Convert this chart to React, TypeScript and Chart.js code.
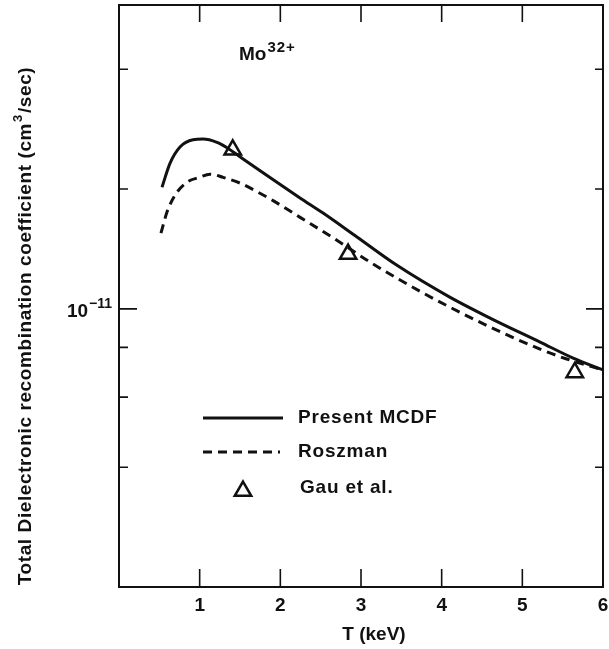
import React, { useEffect, useRef } from "react";
import { Chart, registerables } from "chart.js";

Chart.register(...registerables);

// Present MCDF (solid)
const mcdfT = [0.533, 0.632, 0.756, 0.917, 1.041, 1.215, 1.339, 1.525, 2.244, 2.53, 2.95, 3.446, 4.1, 4.6, 5.22, 5.63, 6.0];
const mcdfRate = [2.02e-11, 2.32e-11, 2.55e-11, 2.66e-11, 2.67e-11, 2.62e-11, 2.54e-11, 2.39e-11, 1.9e-11, 1.74e-11, 1.515e-11, 1.286e-11, 1.07e-11, 9.48e-12, 8.25e-12, 7.52e-12, 7.02e-12];

// Roszman (dashed)
const roszT = [0.52, 0.595, 0.694, 0.843, 1.0, 1.128, 1.29, 1.5, 1.71, 1.91, 2.24, 2.65, 3.15, 3.77, 4.1, 4.6, 5.22, 5.55, 6.0];
const roszRate = [1.55e-11, 1.75e-11, 1.93e-11, 2.08e-11, 2.14e-11, 2.18e-11, 2.14e-11, 2.07e-11, 1.97e-11, 1.87e-11, 1.7e-11, 1.51e-11, 1.296e-11, 1.096e-11, 1.01e-11, 9.0e-12, 7.92e-12, 7.48e-12, 7.02e-12];

// Gau et al. (triangles)
const gauT = [1.41, 2.84, 5.65];
const gauRate = [2.51e-11, 1.373e-11, 6.92e-12];

// Axis ticks
const xTickValues = [1, 2, 3, 4, 5, 6];
const xTickLabels = ["1", "2", "3", "4", "5", "6"];
const yMajorTicks = [1e-11];
const yMinorTicks = [4e-12, 6e-12, 8e-12, 2e-11, 4e-11];

const seriesNames = ["Present MCDF", "Roszman", "Gau et al."];
const yTitleMain = "Total Dielectronic recombination coefficient (cm";
const yTitleSup = "3";
const yTitleEnd = "/sec)";
const xTitle = "T (keV)";
const ionBase = "Mo";
const ionSup = "32+";

const FONT = '"Liberation Sans", Arial, Helvetica, sans-serif';
const INK = "#111";

const decorPlugin = {
  id: "decor",
  afterDraw(chart: any) {
    const ctx = chart.ctx as CanvasRenderingContext2D;
    const xs = chart.scales.x;
    const ys = chart.scales.y;
    const { left, right, top, bottom } = chart.chartArea;
    ctx.save();
    ctx.strokeStyle = INK;
    ctx.fillStyle = INK;
    ctx.lineWidth = 2;
    ctx.strokeRect(left, top, right - left, bottom - top);

    // x ticks
    ctx.lineWidth = 1.6;
    xTickValues.forEach((v) => {
      if (v >= 6) return;
      const px = xs.getPixelForValue(v);
      ctx.beginPath();
      ctx.moveTo(px, bottom);
      ctx.lineTo(px, bottom - 18);
      ctx.moveTo(px, top);
      ctx.lineTo(px, top + 17);
      ctx.stroke();
    });
    // y ticks
    yMajorTicks.forEach((v) => {
      const py = ys.getPixelForValue(v);
      ctx.beginPath();
      ctx.moveTo(left, py);
      ctx.lineTo(left + 18, py);
      ctx.moveTo(right, py);
      ctx.lineTo(right - 17, py);
      ctx.stroke();
    });
    yMinorTicks.forEach((v) => {
      const py = ys.getPixelForValue(v);
      ctx.beginPath();
      ctx.moveTo(left, py);
      ctx.lineTo(left + 9, py);
      ctx.moveTo(right, py);
      ctx.lineTo(right - 8, py);
      ctx.stroke();
    });

    // x tick labels
    ctx.font = `bold 19px ${FONT}`;
    ctx.textAlign = "center";
    ctx.textBaseline = "alphabetic";
    xTickValues.forEach((v, i) => {
      ctx.fillText(xTickLabels[i], xs.getPixelForValue(v), 611);
    });

    // x title
    ctx.fillText(xTitle, 374, 640);

    // y major tick label 10^-11
    const py = ys.getPixelForValue(1e-11);
    ctx.textAlign = "left";
    ctx.font = `bold 19px ${FONT}`;
    const baseW = ctx.measureText("10").width;
    ctx.font = `bold 14px ${FONT}`;
    const supW = ctx.measureText("\u221211").width;
    const startX = 111 - baseW - supW;
    ctx.font = `bold 19px ${FONT}`;
    ctx.fillText("10", startX, py + 8);
    ctx.font = `bold 14px ${FONT}`;
    ctx.fillText("\u221211", startX + baseW + 1, py - 1);

    // y title (rotated)
    ctx.save();
    ctx.translate(24, 326);
    ctx.rotate(-Math.PI / 2);
    (ctx as any).letterSpacing = "0.6px";
    ctx.font = `bold 19px ${FONT}`;
    const w1 = ctx.measureText(yTitleMain).width;
    const w3 = ctx.measureText(yTitleEnd).width;
    ctx.font = `bold 13px ${FONT}`;
    const w2 = ctx.measureText(yTitleSup).width;
    const total = w1 + w2 + w3 + 2;
    let cx = -total / 2;
    ctx.font = `bold 19px ${FONT}`;
    ctx.fillText(yTitleMain, cx, 7);
    cx += w1 + 1;
    ctx.font = `bold 13px ${FONT}`;
    ctx.fillText(yTitleSup, cx, -2);
    cx += w2 + 1;
    ctx.font = `bold 19px ${FONT}`;
    ctx.fillText(yTitleEnd, cx, 7);
    (ctx as any).letterSpacing = "0px";
    ctx.restore();

    // ion label
    ctx.font = `bold 19px ${FONT}`;
    ctx.fillText(ionBase, 239, 60);
    const mw = ctx.measureText(ionBase).width;
    (ctx as any).letterSpacing = "1px";
    ctx.font = `bold 15px ${FONT}`;
    ctx.fillText(ionSup, 239 + mw + 1, 52);
    (ctx as any).letterSpacing = "0px";

    // legend
    const ds = chart.data.datasets;
    ctx.font = `bold 19px ${FONT}`;
    (ctx as any).letterSpacing = "0.8px";
    ctx.textBaseline = "middle";
    const rows = [418, 452, 488];
    ctx.setLineDash([]);
    ctx.lineWidth = ds[0].borderWidth;
    ctx.strokeStyle = ds[0].borderColor;
    ctx.beginPath();
    ctx.moveTo(203, rows[0]);
    ctx.lineTo(283, rows[0]);
    ctx.stroke();
    ctx.setLineDash(ds[1].borderDash);
    ctx.lineWidth = ds[1].borderWidth;
    ctx.beginPath();
    ctx.moveTo(203, rows[1]);
    ctx.lineTo(280, rows[1]);
    ctx.stroke();
    ctx.setLineDash([]);
    const r = ds[2].pointRadius;
    ctx.lineWidth = ds[2].borderWidth;
    ctx.beginPath();
    const tcx = 243;
    const tcy = 491;
    for (let k = 0; k < 3; k++) {
      const a = (k * 2 * Math.PI) / 3;
      const vx = tcx + Math.sin(a) * r;
      const vy = tcy - Math.cos(a) * r;
      if (k === 0) ctx.moveTo(vx, vy);
      else ctx.lineTo(vx, vy);
    }
    ctx.closePath();
    ctx.fillStyle = "#fff";
    ctx.fill();
    ctx.stroke();
    ctx.fillStyle = INK;
    ctx.fillText(seriesNames[0], 298, rows[0]);
    ctx.fillText(seriesNames[1], 298, rows[1]);
    ctx.fillText(seriesNames[2], 300, rows[2]);
    (ctx as any).letterSpacing = "0px";
    ctx.restore();
  },
};

export default function App() {
  const ref = useRef<HTMLCanvasElement | null>(null);
  useEffect(() => {
    if (!ref.current) return;
    const chart = new Chart(ref.current, {
      type: "line",
      data: {
        datasets: [
          {
            label: seriesNames[0],
            data: mcdfT.map((t, i) => ({ x: t, y: mcdfRate[i] })),
            borderColor: INK,
            borderWidth: 3,
            pointRadius: 0,
            fill: false,
            cubicInterpolationMode: "monotone",
          },
          {
            label: seriesNames[1],
            data: roszT.map((t, i) => ({ x: t, y: roszRate[i] })),
            borderColor: INK,
            borderWidth: 3,
            borderDash: [9, 6],
            pointRadius: 0,
            fill: false,
            cubicInterpolationMode: "monotone",
          },
          {
            label: seriesNames[2],
            data: gauT.map((t, i) => ({ x: t, y: gauRate[i] })),
            showLine: false,
            pointStyle: "triangle",
            pointRadius: 9.5,
            borderWidth: 2.5,
            borderColor: INK,
            backgroundColor: "#fff",
          },
        ],
      } as any,
      options: {
        responsive: false,
        animation: false,
        layout: { autoPadding: false, padding: { left: 119, right: 6, top: 5, bottom: 62 } },
        plugins: { legend: { display: false }, tooltip: { enabled: false } },
        scales: {
          x: { type: "linear", min: 0, max: 6, display: false },
          y: { type: "logarithmic", min: 2e-12, max: 5.8e-11, display: false },
        },
      } as any,
      plugins: [decorPlugin],
    });
    return () => chart.destroy();
  }, []);
  return (
    <div style={{ position: "fixed", left: 0, top: 0, width: 609, height: 649, background: "#fff" }}>
      <canvas ref={ref} width={609} height={649} style={{ display: "block" }} />
    </div>
  );
}
